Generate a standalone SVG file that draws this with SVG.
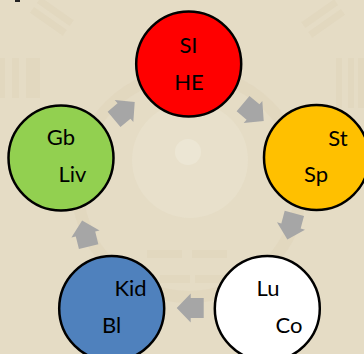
<svg xmlns="http://www.w3.org/2000/svg" width="364" height="354" viewBox="0 0 364 354">
  <defs>
    <style>
      .node circle { stroke: #000; stroke-width: 2.5; }
      .lbl { font-family: Lato, "Liberation Sans", sans-serif; font-size: 22px; fill: #000; text-anchor: middle; }
      .arrow { fill: #a6a6a6; }
      .deco { fill: #ddd2b7; opacity: 0.45; }
    </style>
    <polygon id="blockArrow" points="-13,-10 0,-10 0,-14.5 14,0 0,14.5 0,10 -13,10"/>
  </defs>

  <!-- background -->
  <rect x="0" y="0" width="364" height="354" fill="#e5dcc5"/>
  <g id="background-pattern">
    <circle cx="189" cy="185" r="112" fill="none" stroke="#dfd4ba" stroke-width="12" opacity="0.5"/>
    <circle cx="190" cy="160" r="58" fill="#e9e2cf" opacity="0.6"/>
    <circle cx="188" cy="152" r="13" fill="#ece6d4"/>
    <rect class="deco" x="0" y="58" width="5" height="40"/>
    <rect class="deco" x="12" y="58" width="7" height="40"/>
    <rect class="deco" x="26" y="58" width="14" height="40"/>
    <rect class="deco" x="336" y="58" width="6" height="50"/>
    <rect class="deco" x="348" y="58" width="6" height="50"/>
    <rect class="deco" x="358" y="58" width="6" height="50"/>
    <g transform="translate(55,12) rotate(35)">
      <rect class="deco" x="-20" y="-4" width="40" height="7"/>
      <rect class="deco" x="-20" y="8" width="40" height="7"/>
    </g>
    <g transform="translate(320,14) rotate(-35)">
      <rect class="deco" x="-20" y="-4" width="40" height="7"/>
      <rect class="deco" x="-20" y="8" width="40" height="7"/>
    </g>
    <rect class="deco" x="147" y="250" width="35" height="8"/>
    <rect class="deco" x="192" y="250" width="35" height="8"/>
    <rect class="deco" x="160" y="275" width="30" height="8"/>
    <rect class="deco" x="195" y="275" width="35" height="8"/>
  </g>
  <rect x="15" y="0" width="5" height="2" fill="#222"/>

  <!-- connectors -->
  <g id="connectors">
    <use href="#blockArrow" class="arrow" transform="translate(124,111) rotate(-40)"/>
    <use href="#blockArrow" class="arrow" transform="translate(253,112) rotate(40)"/>
    <use href="#blockArrow" class="arrow" transform="translate(291,226) rotate(105)"/>
    <use href="#blockArrow" class="arrow" transform="translate(190.7,308) rotate(180)"/>
    <use href="#blockArrow" class="arrow" transform="translate(85.5,234) rotate(-104)"/>
  </g>

  <!-- nodes -->
  <g id="node-fire" class="node">
    <circle cx="188.7" cy="64" r="52.5" fill="#ff0000"/>
    <text class="lbl" x="188.5" y="53">SI</text>
    <text class="lbl" x="189" y="90">HE</text>
  </g>
  <g id="node-earth" class="node">
    <circle cx="316.5" cy="157.5" r="52.5" fill="#ffc000"/>
    <text class="lbl" x="338" y="145.5">St</text>
    <text class="lbl" x="316" y="182">Sp</text>
  </g>
  <g id="node-metal" class="node">
    <circle cx="267.3" cy="308.5" r="52.5" fill="#ffffff"/>
    <text class="lbl" x="268" y="296">Lu</text>
    <text class="lbl" x="289" y="332.7">Co</text>
  </g>
  <g id="node-water" class="node">
    <circle cx="111.7" cy="308.5" r="52.5" fill="#4f81bd"/>
    <text class="lbl" x="130.5" y="296">Kid</text>
    <text class="lbl" x="111.7" y="332.7">Bl</text>
  </g>
  <g id="node-wood" class="node">
    <circle cx="61" cy="158" r="52.5" fill="#92d050"/>
    <text class="lbl" x="61" y="145">Gb</text>
    <text class="lbl" x="72.5" y="182.3">Liv</text>
  </g>
</svg>
